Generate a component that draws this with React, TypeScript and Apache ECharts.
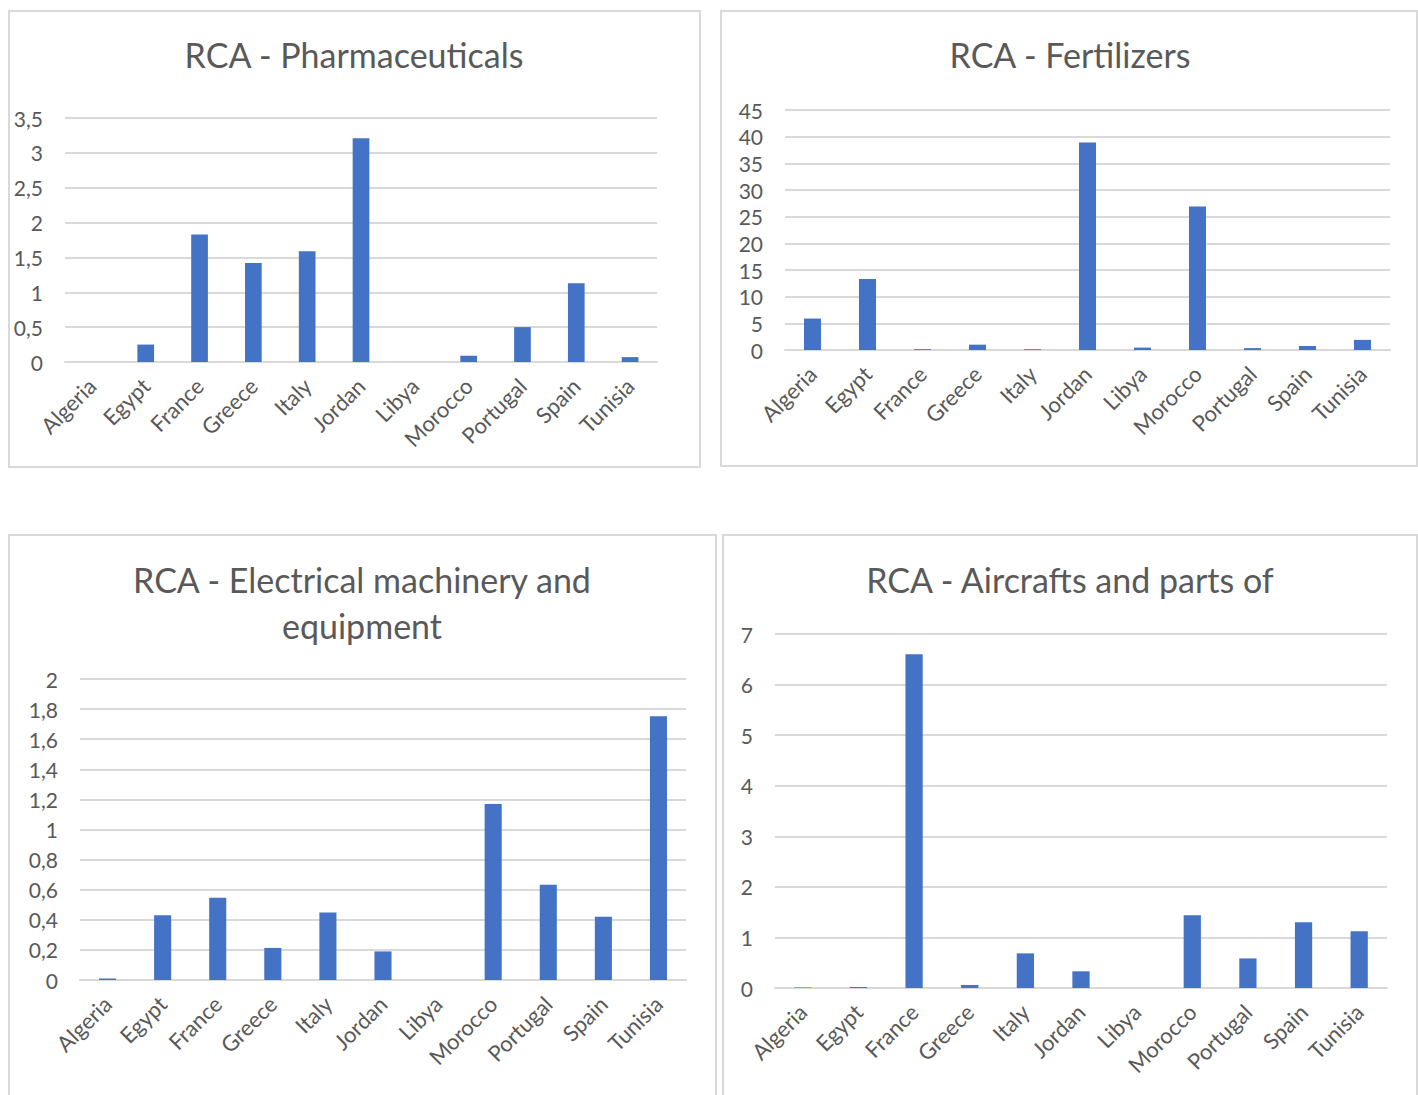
import React, { useEffect, useRef } from "react";
import * as echarts from "echarts";

const countries = ["Algeria", "Egypt", "France", "Greece", "Italy", "Jordan", "Libya", "Morocco", "Portugal", "Spain", "Tunisia"];
const pharmaceuticals = [0, 0.25, 1.83, 1.42, 1.59, 3.21, 0, 0.09, 0.5, 1.13, 0.07];
const fertilizers = [5.9, 13.3, 0.15, 1.0, 0.15, 38.9, 0.45, 26.9, 0.35, 0.75, 1.9];
const electrical = [0.01, 0.43, 0.546, 0.213, 0.448, 0.19, 0, 1.169, 0.633, 0.42, 1.753];
const aircraft = [0.01, 0.02, 6.6, 0.06, 0.685, 0.33, 0, 1.44, 0.585, 1.3, 1.12];

const titles = ["RCA - Pharmaceuticals", "RCA - Fertilizers", "RCA - Electrical machinery and\nequipment", "RCA - Aircrafts and parts of"];
const axisMax = [3.5, 45, 2, 7];
const axisStep = [0.5, 5, 0.2, 1];

const FONT = "Lato, 'Open Sans', sans-serif";
const TXT = "#595959";
const GRID = "#d9d9d9";
const BAR = "#4472C4";

export default function App() {
  const ref = useRef<HTMLDivElement>(null);
  useEffect(() => {
    if (!ref.current) return;
    const chart = echarts.init(ref.current, null, { renderer: "svg" });
    const dataSets = [pharmaceuticals, fertilizers, electrical, aircraft];
    const grids = [
      { left: 65, top: 118, width: 592, height: 244 },
      { left: 785, top: 110, width: 605, height: 240 },
      { left: 80, top: 679, width: 606, height: 301 },
      { left: 775, top: 634, width: 612, height: 354 },
    ];
    const panels = [
      { x: 9, y: 11, w: 691, h: 456 },
      { x: 721, y: 11, w: 696, h: 455 },
      { x: 9, y: 535, w: 707, h: 570 },
      { x: 723, y: 535, w: 694, h: 570 },
    ];
    const titlePos = [
      { x: 354, y: 54 },
      { x: 1070, y: 54 },
      { x: 362, y: 602 },
      { x: 1070, y: 579 },
    ];
    const graphic: any[] = [];
    panels.forEach((p) => {
      graphic.push({
        type: "rect",
        shape: { x: p.x, y: p.y, width: p.w, height: p.h },
        style: { fill: "none", stroke: GRID, lineWidth: 2 },
        silent: true,
      });
    });
    titles.forEach((t, i) => {
      graphic.push({
        type: "text",
        x: titlePos[i].x,
        y: titlePos[i].y,
        style: {
          text: t,
          align: "center",
          verticalAlign: "middle",
          fontSize: 34,
          lineHeight: 46,
          fontFamily: FONT,
          fill: TXT,
        },
      });
    });
    const option: any = {
      animation: false,
      backgroundColor: "#ffffff",
      grid: grids.map((g) => ({ ...g, containLabel: false })),
      xAxis: grids.map((_, i) => ({
        type: "category",
        gridIndex: i,
        data: countries,
        axisLine: { lineStyle: { color: GRID, width: 2 } },
        axisTick: { show: false },
        axisLabel: {
          rotate: 45,
          interval: 0,
          margin: 20,
          color: TXT,
          fontSize: 22,
          fontFamily: FONT,
        },
      })),
      yAxis: grids.map((_, i) => ({
        type: "value",
        gridIndex: i,
        min: 0,
        max: axisMax[i],
        interval: axisStep[i],
        axisLine: { show: false },
        axisTick: { show: false },
        splitLine: { lineStyle: { color: GRID, width: 2 } },
        axisLabel: {
          color: TXT,
          fontSize: 21,
          fontFamily: FONT,
          margin: 22,
          formatter: (v: number) => String(Math.round(v * 10) / 10).replace(".", ","),
        },
      })),
      series: dataSets.map((d, i) => ({
        type: "bar",
        xAxisIndex: i,
        yAxisIndex: i,
        data: d,
        barWidth: "31%",
        itemStyle: { color: BAR },
      })),
      graphic,
    };
    chart.setOption(option);
    return () => chart.dispose();
  }, []);
  return <div ref={ref} style={{ position: "absolute", left: 0, top: 0, width: 1418, height: 1095 }} />;
}
